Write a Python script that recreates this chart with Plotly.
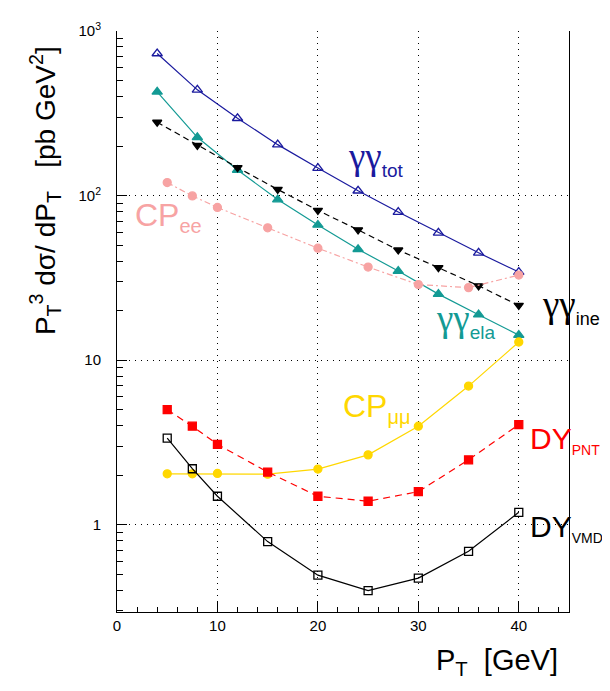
import plotly.graph_objects as go

# ---- data ----
x_gg = [4, 8, 12, 16, 20, 24, 28, 32, 36, 40]
gg_tot = [730, 439, 295, 204, 147, 107, 79.4, 59.4, 44.9, 34.3]
gg_ela = [427, 226, 143, 94.6, 66.3, 47.2, 34.8, 25.2, 18.9, 14.2]
gg_ine = [279, 202, 148, 109, 81.3, 61.9, 46.7, 36.5, 28.3, 21.5]

x_cp = [5, 7.5, 10, 15, 20, 25, 30, 35, 40]
cp_ee = [120, 99.6, 84.7, 63.7, 47.9, 36.8, 28.8, 27.6, 32.9]
cp_mumu = [2.04, 2.04, 2.05, 2.03, 2.18, 2.66, 3.97, 6.96, 12.9]
dy_pnt = [5.0, 3.97, 3.08, 2.09, 1.49, 1.39, 1.59, 2.48, 4.06]
dy_vmd = [3.36, 2.19, 1.49, 0.79, 0.494, 0.398, 0.474, 0.69, 1.19]

y_tickvals = [1, 10, 100, 1000]
y_ticktext = ["1", "10", "10<sup>2</sup>", "10<sup>3</sup>"]
x_tickvals = [0, 10, 20, 30, 40]
y_minor = [0.3, 0.4, 0.5, 0.6, 0.7, 0.8, 0.9, 2, 3, 4, 5, 6, 7, 8, 9,
           20, 30, 40, 50, 60, 70, 80, 90, 200, 300, 400, 500, 600, 700, 800, 900]

FONT = "Liberation Sans, Arial, Helvetica, sans-serif"
SERIF = "Liberation Serif, Times New Roman, serif"
NAVY = "#1a1a9e"
TEAL = "#139a94"
PINK = "#f7a3a3"
GOLD = "#ffd700"
RED = "#ff0000"

# page is drawn with an 8px body margin -> figure offset
OFF = 8
W, H = 610 - OFF, 691 - 2 * OFF
L, R, T = 117 - OFF, 41, 24 - OFF
B = H - (612 - OFF)
pw, ph = W - L - R, H - T - B

fig = go.Figure()

def add(x, y, color, dash, symbol, size, width=1.2):
    fig.add_trace(go.Scatter(
        x=x, y=y, mode="lines+markers",
        line=dict(color=color, dash=dash, width=width),
        marker=dict(symbol=symbol, size=size, color=color,
                    line=dict(color=color, width=1.3)),
        showlegend=False, cliponaxis=False))

add(x_gg, gg_tot, NAVY, "solid", "triangle-up-open", 9)
add(x_gg, gg_ela, TEAL, "solid", "triangle-up", 9)
add(x_gg, gg_ine, "black", "6px,4px", "triangle-down", 8)
add(x_cp, cp_ee, PINK, "6px,3px,2px,3px", "circle", 8)
add(x_cp, cp_mumu, GOLD, "solid", "circle", 8)
add(x_cp, dy_pnt, RED, "7px,5px", "square", 8)
add(x_cp, dy_vmd, "black", "solid", "square-open", 8)

def px2x(px):
    return (px - 117) / 10.05

def py2y(py):
    return (524 - py) / 166.5

def lab(text, px, py, color, size, family=FONT):
    fig.add_annotation(x=px2x(px), y=py2y(py), xref="x", yref="y",
                       text=text, showarrow=False, xanchor="left",
                       yanchor="middle",
                       font=dict(family=family, size=size, color=color))

def sub(t, size):
    return ("<sub><span style=\"font-family:Liberation Sans;font-size:%dpx\">%s</span></sub>"
            % (size, t))

lab("γγ" + sub("tot", 19), 346, 153, NAVY, 37, SERIF)
lab("CP" + sub("ee", 20), 133, 213, PINK, 32)
lab("γγ" + sub("ela", 19), 434, 317, TEAL, 37, SERIF)
lab("γγ" + sub("ine", 18), 540, 303, "black", 37, SERIF)
lab("CP" + sub("μμ", 20), 341, 406, GOLD, 32)
lab("DY" + sub("PNT", 14), 528, 438, RED, 30)
lab("DY" + sub("VMD", 14), 528, 527, "black", 30)

# axis titles (positions given in page pixels)
fig.add_annotation(xref="paper", yref="paper",
                   x=(45 - 117) / pw, y=1 - (186 - 24) / ph,
                   xanchor="center", yanchor="middle",
                   text="P<sub>T</sub><sup>3</sup> dσ/ dP<sub>T</sub>   [pb GeV<sup>2</sup>]",
                   showarrow=False, textangle=-90,
                   font=dict(family=FONT, size=28, color="black"))
fig.add_annotation(xref="paper", yref="paper",
                   x=(560 - 117) / pw, y=1 - (663 - 24) / ph,
                   xanchor="right", yanchor="middle",
                   text="P<sub>T</sub>  [GeV]", showarrow=False,
                   font=dict(family=FONT, size=29, color="black"))

GRID_DASH = "1px,5px"

fig.update_layout(
    width=W, height=H,
    margin=dict(l=L, r=R, t=T, b=B, pad=0),
    paper_bgcolor="white", plot_bgcolor="white",
    font=dict(family=FONT, size=15, color="black"),
    xaxis=dict(range=[0, 45], tickvals=x_tickvals, ticks="inside", ticklen=10,
               tickcolor="black", tickwidth=1, showline=True, linecolor="black",
               linewidth=1, mirror=False, showgrid=True, gridcolor="black",
               griddash=GRID_DASH, gridwidth=1, zeroline=False,
               tickfont=dict(size=15, family=FONT), ticklabelstandoff=0,
               minor=dict(dtick=2, ticks="inside", ticklen=5, tickcolor="black",
                          showgrid=False)),
    yaxis=dict(type="log", range=[-0.53, 3.0], tickvals=y_tickvals,
               ticktext=y_ticktext, ticks="inside", ticklen=10, tickcolor="black",
               tickwidth=1, showline=True, linecolor="black", linewidth=1,
               mirror=True, showgrid=True, gridcolor="black", griddash=GRID_DASH,
               gridwidth=1, zeroline=False, ticklabelstandoff=12,
               tickfont=dict(size=15, family=FONT),
               minor=dict(ticks="inside", ticklen=6, tickcolor="black",
                          tickvals=y_minor, showgrid=False)),
)

fig.write_html("out.html")
